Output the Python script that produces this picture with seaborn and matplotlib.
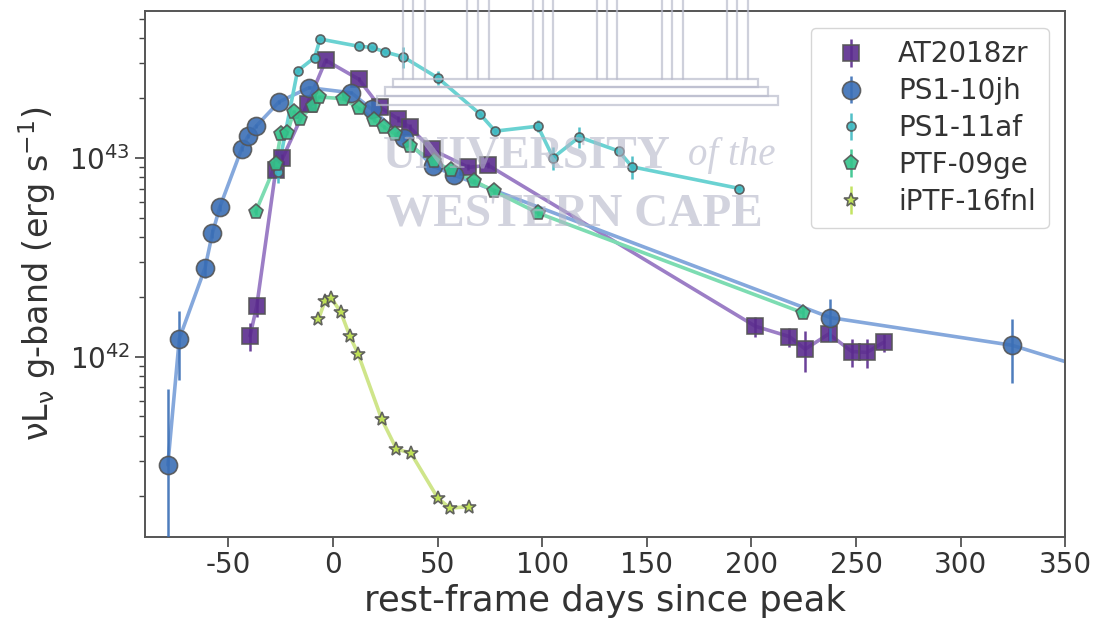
import numpy as np
import pandas as pd
import seaborn as sns
import matplotlib.pyplot as plt
from matplotlib.lines import Line2D
from matplotlib.patches import Rectangle

# rest-frame days since peak, g-band luminosity and error (units of 1e42 erg/s)
at18_days = [-39.7, -36.5, -27.4, -24.2, -12.2, -3.5, 12.3, 22.6, 31.0, 36.7, 47.2, 64.7, 74.2,
             201.9, 218.2, 225.7, 237.0, 248.0, 255.2, 263.3]
at18_lum = [1.27, 1.79, 8.65, 9.91, 18.7, 30.9, 24.8, 17.9, 15.7, 14.2, 11.0, 8.95, 9.16,
            1.42, 1.26, 1.09, 1.30, 1.06, 1.05, 1.18]
at18_err = [0.2, 0.2, 0.5, 0.5, 0.6, 0.8, 0.6, 0.5, 0.5, 0.5, 0.4, 0.3, 0.3,
            0.16, 0.14, 0.25, 0.1, 0.17, 0.17, 0.12]

jh_days = [-79.0, -73.5, -61.2, -57.7, -54.2, -43.7, -40.7, -36.8, -25.8, -11.5, 8.8, 18.5,
           34.0, 47.6, 57.9, 237.8, 324.6, 420.0]
jh_lum = [0.285, 1.23, 2.79, 4.16, 5.62, 11.1, 12.8, 14.4, 19.1, 22.5, 21.2, 17.5,
          12.6, 9.10, 8.17, 1.57, 1.14, 0.56]
jh_err = [0.405, 0.47, 0.3, 0.2, 0.2, 0.3, 0.3, 0.3, 0.4, 0.4, 0.4, 0.4,
          0.3, 0.2, 0.2, 0.37, 0.4, 0.2]

af_days = [-26.5, -17.0, -8.8, -6.2, 12.4, 18.5, 24.9, 33.6, 50.1, 70.2, 77.5, 97.9,
           105.2, 117.7, 136.6, 142.9, 194.3]
af_lum = [8.45, 27.3, 31.9, 39.5, 36.3, 35.9, 34.0, 32.1, 25.2, 16.6, 13.6, 14.4,
          10.0, 12.7, 10.8, 9.0, 7.0]
af_err = [1.0, 0.6, 0.6, 0.6, 0.6, 0.6, 0.6, 3.8, 2.1, 0.4, 0.4, 1.0,
          1.3, 1.5, 0.3, 1.15, 0.2]

ge_days = [-37.0, -27.4, -25.0, -21.8, -18.9, -15.9, -9.6, -6.7, 4.9, 12.4, 19.6, 24.4,
           29.8, 36.8, 48.3, 56.3, 67.5, 77.0, 97.8, 224.6]
ge_lum = [5.35, 9.27, 13.2, 13.3, 17.0, 15.7, 18.2, 20.2, 19.8, 17.7, 15.5, 14.3,
          13.1, 11.4, 9.59, 8.65, 7.64, 6.79, 5.28, 1.66]
ge_err = [0.2, 0.3, 0.3, 0.3, 0.3, 0.3, 0.3, 0.3, 0.3, 0.3, 0.3, 0.3,
          0.3, 0.3, 0.2, 0.2, 0.2, 0.2, 0.2, 0.1]

fnl_days = [-7.0, -3.8, -1.0, 3.7, 8.0, 12.0, 23.3, 30.3, 37.2, 50.0, 55.8, 65.1]
fnl_lum = [1.54, 1.91, 1.98, 1.67, 1.27, 1.03, 0.483, 0.343, 0.327, 0.195, 0.173, 0.176]
fnl_err = [0.03, 0.03, 0.03, 0.03, 0.03, 0.02, 0.01, 0.01, 0.01, 0.005, 0.005, 0.005]

names = ["AT2018zr", "PS1-10jh", "PS1-11af", "PTF-09ge", "iPTF-16fnl"]
face_colors = ["#5b2c8e", "#3b6fb6", "#3fb9c2", "#34c38b", "#bde052"]
line_colors = ["#9c7ec6", "#85a8dc", "#6ad2d2", "#7ddcb2", "#cfe58a"]
markers = ["s", "o", "o", "p", "*"]
msizes = [11, 13, 6.5, 11, 10]

series = [(at18_days, at18_lum, at18_err), (jh_days, jh_lum, jh_err), (af_days, af_lum, af_err),
          (ge_days, ge_lum, ge_err), (fnl_days, fnl_lum, fnl_err)]

frames = []
for name, (d, l, e) in zip(names, series):
    frames.append(pd.DataFrame({"day": d, "lum": np.array(l) * 1e42,
                                "err": np.array(e) * 1e42, "name": name}))
df = pd.concat(frames, ignore_index=True)

sns.set_style("ticks")
plt.rcParams["font.family"] = ["DejaVu Sans"]
plt.rcParams["axes.unicode_minus"] = False

W, H = 1097, 625
fig = plt.figure(figsize=(W / 100, H / 100), dpi=100)
ax = fig.add_axes([0.132, 0.141, 0.839, 0.841])
ax.set_yscale("log")

sns.lineplot(data=df, x="day", y="lum", hue="name", hue_order=names,
             palette=line_colors, estimator=None, sort=True, lw=2.6,
             legend=False, ax=ax, zorder=1)

handles = []
for i, name in enumerate(names):
    sub = df[df["name"] == name]
    h = ax.errorbar(sub["day"], sub["lum"], yerr=sub["err"], fmt=markers[i],
                    ms=msizes[i], mfc=face_colors[i], mec="#555555", mew=1.2,
                    ecolor=face_colors[i], elinewidth=1.8, capsize=0,
                    alpha=0.9, zorder=3 + i * 0.1, label=name)
    handles.append(h)

ax.set_xlim(-90, 350)
ax.set_ylim(1.24e41, 5.45e43)
ax.set_xticks(np.arange(-50, 351, 50))

ax.set_xlabel("rest-frame days since peak", fontsize=25.5, color="#333333", labelpad=3)
ax.set_ylabel("νL$_\\mathrm{ν}$ g-band (erg s$^{-1}$)", fontsize=24, color="#333333", labelpad=8)
ax.tick_params(axis="x", which="major", labelsize=20, length=7, width=1.2, colors="#444444")
ax.tick_params(axis="y", which="major", labelsize=20, length=7, width=1.2, colors="#444444")
ax.tick_params(axis="y", which="minor", length=4, width=1.0, colors="#444444")
for lab in ax.get_xticklabels() + ax.get_yticklabels():
    lab.set_color("#333333")
for sp in ax.spines.values():
    sp.set_color("#555555")
    sp.set_linewidth(1.4)

leg = ax.legend(handles, names, loc="upper right", fontsize=20, frameon=True,
                fancybox=True, labelspacing=0.32, handletextpad=0.7, handlelength=2.0,
                borderpad=0.45, borderaxespad=0.6)
leg.get_frame().set_edgecolor("#cccccc")
for t in leg.get_texts():
    t.set_color("#333333")

# thesis repository watermark (building outline + text), placed in pixel positions
wm_col = "#babccd"


def px(x, y):
    return x / W, 1 - y / H


for group in [(403, 413, 425), (467, 478, 489), (533, 543, 553),
              (597, 607, 617), (662, 672, 683), (727, 737, 748)]:
    for x in group:
        (x0, y0), (x1, y1) = px(x, 0), px(x, 79)
        fig.add_artist(Line2D([x0, x1], [y0, y1], color=wm_col, lw=1.6, alpha=0.7, zorder=10))
for (xa, ya, xb, yb) in [(393, 79, 758, 87), (385, 87, 768, 96), (377, 96, 778, 105)]:
    (x0, y0), (x1, y1) = px(xa, yb), px(xb, ya)
    fig.add_artist(Rectangle((x0, y0), x1 - x0, y1 - y0, fill=False, ec=wm_col,
                             lw=1.6, alpha=0.7, zorder=10))

wm = dict(color="#b4b6c8", alpha=0.6, family="Liberation Serif", zorder=10)
fig.text(*px(527, 156), "UNIVERSITY", ha="center", va="center", fontsize=33,
         weight="bold", **wm)
fig.text(*px(732, 156), "of the", ha="center", va="center", fontsize=28,
         style="italic", **wm)
fig.text(*px(574, 214), "WESTERN CAPE", ha="center", va="center", fontsize=34,
         weight="bold", **wm)

fig.savefig("out.png", dpi=100)
